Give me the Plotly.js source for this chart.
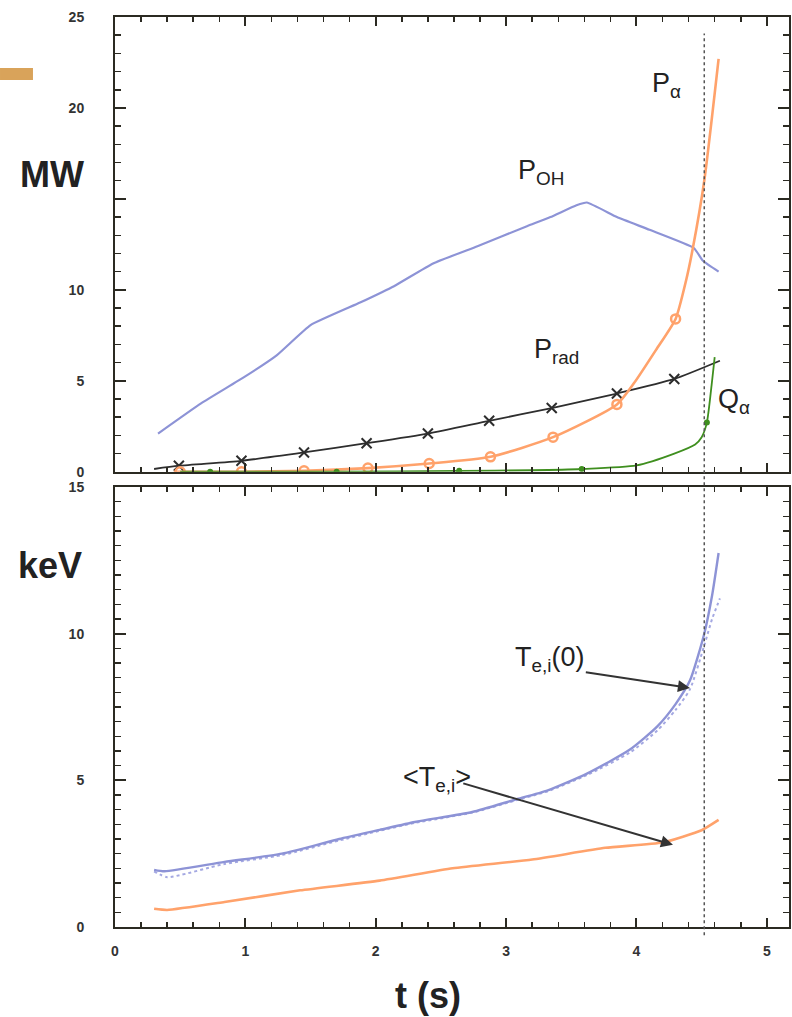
<!DOCTYPE html>
<html>
<head>
<meta charset="utf-8">
<script src="https://cdn.plot.ly/plotly-3.0.1.min.js"></script>
<style>html,body{margin:0;padding:0;background:#fff;}#chart{width:792px;height:1017px;}</style>
</head>
<body>
<div id="chart"></div>
<script>
// ---- Top panel (MW) ----
const tPOH = [0.33,0.66,0.99,1.24,1.50,1.88,2.14,2.44,2.78,3.16,3.34,3.54,3.62,3.85,4.10,4.44,4.51,4.63];
const vPOH = [2.1,3.76,5.2,6.4,8.06,9.3,10.2,11.45,12.4,13.5,14.0,14.65,14.8,14.0,13.3,12.3,11.6,11.0];

const tPrad = [0.30,0.49,0.97,1.45,1.93,2.40,2.87,3.35,3.85,4.29,4.64];
const vPrad = [0.15,0.33,0.6,1.06,1.57,2.1,2.8,3.5,4.3,5.1,6.1];
const tPradMk = [0.49,0.97,1.45,1.93,2.40,2.87,3.35,3.85,4.29];
const vPradMk = [0.33,0.6,1.06,1.57,2.1,2.8,3.5,4.3,5.1];

const tPa = [0.45,0.97,1.45,1.94,2.41,2.88,3.36,3.85,3.98,4.15,4.30,4.38,4.43,4.52,4.63];
const vPa = [0.0,0.0,0.05,0.2,0.45,0.82,1.9,3.7,4.86,6.7,8.4,10.5,12.2,16.0,22.7];
const tPaMk = [0.50,0.97,1.45,1.94,2.41,2.88,3.36,3.85,4.30];
const vPaMk = [0.0,0.0,0.05,0.2,0.45,0.82,1.9,3.7,8.4];

const tQa = [0.50,0.73,1.70,2.64,3.20,3.58,4.00,4.29,4.45,4.50,4.54,4.58,4.60];
const vQa = [0.0,0.0,0.0,0.05,0.08,0.15,0.35,1.0,1.5,1.9,2.7,5.0,6.3];
const tQaMk = [0.73,1.70,2.64,3.58,4.54];
const vQaMk = [0.0,0.0,0.05,0.15,2.7];

// ---- Bottom panel (keV) ----
const tT0 = [0.30,0.38,0.84,1.28,1.72,2.03,2.30,2.74,3.06,3.32,3.62,3.95,4.16,4.30,4.41,4.52,4.58,4.63];
const vT0 = [1.95,1.9,2.22,2.5,3.0,3.31,3.58,3.92,4.33,4.66,5.23,6.05,6.84,7.6,8.4,10.0,11.3,12.75];
const tT0b = [0.30,0.40,0.84,1.28,1.72,2.03,2.30,2.74,3.06,3.32,3.62,3.95,4.16,4.30,4.41,4.52,4.58,4.64];
const vT0b = [1.9,1.7,2.15,2.45,2.95,3.28,3.55,3.9,4.3,4.63,5.18,5.95,6.7,7.4,8.1,9.6,10.5,11.2];

const tTavg = [0.30,0.40,0.84,1.42,2.03,2.59,3.20,3.76,4.20,4.50,4.63];
const vTavg = [0.62,0.58,0.85,1.25,1.58,2.0,2.3,2.7,2.88,3.3,3.65];

const xTicks = [0,1,2,3,4,5];
const yTopTicks = [0,5,10,15,20,25];
const yTopText = ['0','5','10','','20','25'];
const yBotTicks = [0,5,10,15];
const tCrash = 4.52;

const FONT = 'Liberation Sans, Arial, Helvetica, sans-serif';
const AX = '#2b2a22';
const BLUE = '#8d93d6', ORANGE = '#ffa26b', GREEN = '#3f8f1f', BLACK = '#2e2e2e';

const traces = [
  {x:tPOH, y:vPOH, xaxis:'x2', yaxis:'y2', mode:'lines', line:{color:BLUE, width:2.2, shape:'spline', smoothing:0.4}},
  {x:tPrad, y:vPrad, xaxis:'x2', yaxis:'y2', mode:'lines', line:{color:BLACK, width:1.8, shape:'spline', smoothing:0.6}},
  {x:tPradMk, y:vPradMk, xaxis:'x2', yaxis:'y2', mode:'markers', marker:{symbol:'x-thin-open', size:10, color:BLACK, line:{color:BLACK, width:2}}},
  {x:tPa, y:vPa, xaxis:'x2', yaxis:'y2', mode:'lines', line:{color:ORANGE, width:2.6, shape:'spline', smoothing:0.6}},
  {x:tPaMk, y:vPaMk, xaxis:'x2', yaxis:'y2', mode:'markers', marker:{symbol:'circle-open', size:9, color:ORANGE, line:{color:ORANGE, width:2.5}}},
  {x:tQa, y:vQa, xaxis:'x2', yaxis:'y2', mode:'lines', line:{color:GREEN, width:1.8, shape:'spline', smoothing:0.6}},
  {x:tQaMk, y:vQaMk, xaxis:'x2', yaxis:'y2', mode:'markers', marker:{symbol:'circle', size:6, color:GREEN}},
  {x:tT0b, y:vT0b, xaxis:'x', yaxis:'y', mode:'lines', line:{color:'#a4a8e2', width:2, dash:'dot', shape:'spline', smoothing:0.6}},
  {x:tT0, y:vT0, xaxis:'x', yaxis:'y', mode:'lines', line:{color:BLUE, width:2.4, shape:'spline', smoothing:0.6}},
  {x:tTavg, y:vTavg, xaxis:'x', yaxis:'y', mode:'lines', line:{color:ORANGE, width:2.6, shape:'spline', smoothing:0.5}}
];

function xa(extra){
  return Object.assign({
    range:[0,5.17], tickvals:xTicks, ticks:'inside', ticklen:9, tickwidth:2, tickcolor:AX,
    showline:true, linewidth:2, linecolor:AX, mirror:'ticks', showgrid:false, zeroline:false,
    minor:{dtick:0.2, tick0:0, ticks:'inside', ticklen:5, tickwidth:1.5, tickcolor:AX},
    tickfont:{family:FONT, size:14, color:'#333', weight:'bold'}, ticklabelstandoff:10
  }, extra);
}
function ya(extra){
  return Object.assign({
    ticks:'inside', ticklen:11, tickwidth:2, tickcolor:AX, tickmode:'array',
    showline:true, linewidth:2, linecolor:AX, mirror:'ticks', showgrid:false, zeroline:false,
    tickfont:{family:FONT, size:14, color:'#333', weight:'bold'}, ticklabelstandoff:26
  }, extra);
}

const lblFont = {family:FONT, size:27, color:'#222'};
function lbl(xr, yr, x, y, text){
  return {xref:xr, yref:yr, x:x, y:y, text:text, showarrow:false, font:lblFont, xanchor:'center', yanchor:'middle'};
}
const annotations = [
  lbl('x2','y2', 4.23, 21.26, 'P<sub>α</sub>'),
  lbl('x2','y2', 3.27, 16.47, 'P<sub>OH</sub>'),
  lbl('x2','y2', 3.39, 6.62, 'P<sub>rad</sub>'),
  lbl('x2','y2', 4.75, 3.88, 'Q<sub>α</sub>'),
  lbl('x','y', 3.33, 9.14, 'T<sub>e,i</sub>(0)'),
  lbl('x','y', 2.47, 5.05, '&lt;T<sub>e,i</sub>&gt;'),
  {xref:'x', yref:'y', x:4.41, y:8.15, axref:'x', ayref:'y', ax:3.60, ay:8.69, text:'', showarrow:true,
   arrowhead:2, arrowsize:1.2, arrowwidth:2, arrowcolor:'#333', standoff:0, startstandoff:0},
  {xref:'x', yref:'y', x:4.28, y:2.80, axref:'x', ayref:'y', ax:2.66, ay:4.91, text:'', showarrow:true,
   arrowhead:2, arrowsize:1.2, arrowwidth:2, arrowcolor:'#333', standoff:0, startstandoff:0},
  {xref:'paper', yref:'paper', x:-0.0935, y:0.8264, text:'<b>MW</b>', showarrow:false, xanchor:'center', yanchor:'middle',
   font:{family:FONT, size:36, color:'#222'}},
  {xref:'paper', yref:'paper', x:-0.0964, y:0.3978, text:'<b>keV</b>', showarrow:false, xanchor:'center', yanchor:'middle',
   font:{family:FONT, size:36, color:'#222'}},
  {xref:'paper', yref:'paper', x:0.4644, y:-0.0758, text:'<b>t (s)</b>', showarrow:false, xanchor:'center', yanchor:'middle',
   font:{family:FONT, size:36, color:'#222'}}
];

const shapes = [
  {type:'line', xref:'x', yref:'paper', x0:tCrash, x1:tCrash, y0:-0.009, y1:0.982,
   line:{color:'#555', width:1.5, dash:'dot'}},
  {type:'rect', xref:'paper', yref:'paper', x0:-0.1706, x1:-0.1217, y0:0.9308, y1:0.944,
   line:{width:0}, fillcolor:'#d9a35a'}
];

const layout = {
  width:792, height:1017,
  margin:{l:115, r:3, t:17, b:90},
  paper_bgcolor:'#fff', plot_bgcolor:'#fff',
  showlegend:false,
  xaxis: xa({anchor:'y', domain:[0,1]}),
  xaxis2: xa({anchor:'y2', matches:'x', showticklabels:false}),
  yaxis: ya({domain:[0,0.4835], range:[0,15], tickvals:yBotTicks,
    minor:{dtick:0.5, tick0:0, ticks:'inside', ticklen:6, tickwidth:1.5, tickcolor:AX}}),
  yaxis2: ya({domain:[0.5003,1], range:[0,25], tickvals:yTopTicks, ticktext:yTopText,
    minor:{dtick:1, tick0:0, ticks:'inside', ticklen:6, tickwidth:1.5, tickcolor:AX}}),
  annotations: annotations,
  shapes: shapes
};

Plotly.newPlot('chart', traces, layout, {displayModeBar:false, staticPlot:true});
</script>
</body>
</html>
